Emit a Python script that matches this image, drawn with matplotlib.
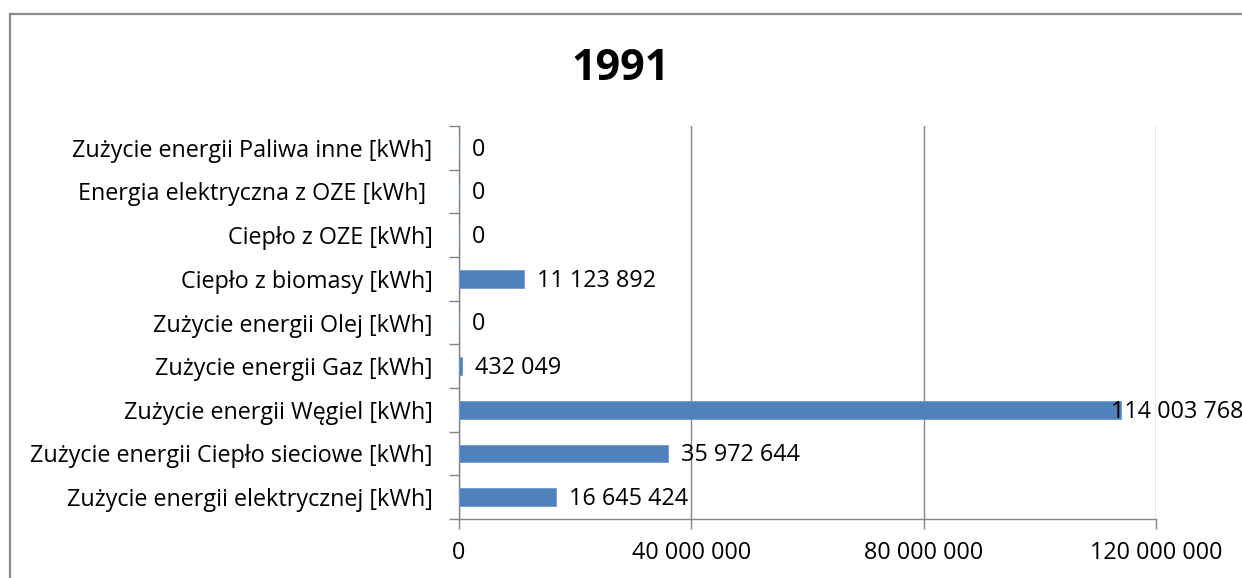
import numpy as np
import matplotlib
matplotlib.use("Agg")
import matplotlib.pyplot as plt
from matplotlib.lines import Line2D
from matplotlib.ticker import FuncFormatter, MultipleLocator

plt.rcParams["font.family"] = ["Open Sans", "DejaVu Sans"]

# data (bottom to top, as drawn)
categories = [
    "Zużycie energii elektrycznej [kWh]",
    "Zużycie energii Ciepło sieciowe [kWh]",
    "Zużycie energii Węgiel [kWh]",
    "Zużycie energii Gaz [kWh]",
    "Zużycie energii Olej [kWh]",
    "Ciepło z biomasy [kWh]",
    "Ciepło z OZE [kWh]",
    "Energia elektryczna z OZE [kWh] ",
    "Zużycie energii Paliwa inne [kWh]",
]
values = [16645424, 35972644, 114003768, 432049, 0, 11123892, 0, 0, 0]
title = "1991"

BAR = "#4F81BD"
GRID = "#868686"
FS = 16.8


def spaced(v, pos=None):
    return f"{int(v):,}".replace(",", " ")


fig = plt.figure(figsize=(12.42, 5.78), dpi=100)
fig.patch.set_facecolor("white")

# chart-area border: only top and left edges fall inside the screenshot
bx, by = 10 / 1242, 1 - 14 / 578
fig.lines.append(Line2D([bx, 1.0], [by, by], transform=fig.transFigure,
                        color="#8c8c8c", linewidth=1.6))
fig.lines.append(Line2D([bx, bx], [0.0, by], transform=fig.transFigure,
                        color="#8c8c8c", linewidth=1.6))

ax = fig.add_axes([459 / 1242, 1 - 519 / 578, (1156 - 459) / 1242, (519 - 126) / 578])

y = np.arange(len(categories))
ax.barh(y, values, height=0.41, color=BAR, edgecolor="#6f9ad0", linewidth=0.6, zorder=3)

ax.set_xlim(0, 120_000_000)
ax.set_ylim(-0.5, len(categories) - 0.5)
ax.xaxis.set_major_locator(MultipleLocator(40_000_000))
ax.xaxis.set_major_formatter(FuncFormatter(spaced))
ax.grid(axis="x", color=GRID, linewidth=1.0, zorder=0)

ax.set_yticks(y)
ax.set_yticklabels(categories, fontsize=FS)
ax.set_yticks(np.arange(len(categories) + 1) - 0.5, minor=True)
ax.tick_params(axis="y", which="major", length=0, pad=19)
ax.tick_params(axis="y", which="minor", length=7, width=1.0, color=GRID)
ax.tick_params(axis="x", length=7, width=1.0, color=GRID, labelsize=FS, pad=9)

for side in ("top", "right"):
    ax.spines[side].set_visible(False)
for side in ("left", "bottom"):
    ax.spines[side].set_color(GRID)
    ax.spines[side].set_linewidth(1.0)

# value labels, kept inside the chart area on the right
pad = 2_300_000
label_max = 112_300_000
for yi, v in zip(y, values):
    ax.text(min(v + pad, label_max), yi - 0.04, spaced(v), va="center", ha="left",
            fontsize=FS, clip_on=False, zorder=4)

fig.text(0.5, 1 - 68 / 578, title, ha="center", va="center",
         fontsize=31, fontweight="bold")

fig.savefig("out.png", dpi=100, facecolor=fig.get_facecolor())
